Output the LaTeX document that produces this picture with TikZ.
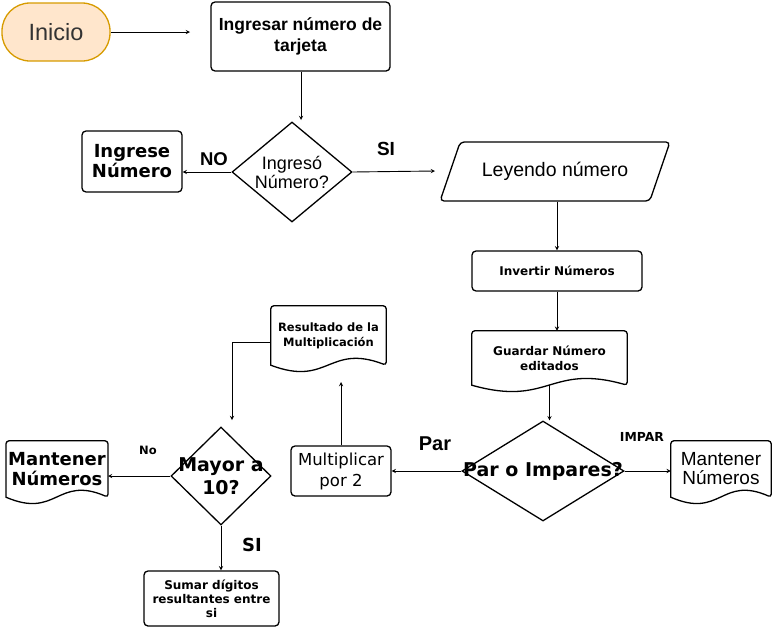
\documentclass[tikz,border=0pt]{standalone}
\usepackage{fontspec}
\setmainfont{Liberation Sans}
\newfontfamily\dejavu{DejaVu Sans}
\usetikzlibrary{shapes.geometric,calc}
\definecolor{iniciofill}{HTML}{FFE6CC}
\definecolor{inicioborder}{HTML}{D79B00}

\tikzset{
  shapeline/.style={line width=1.3pt},
  proc/.style={draw, shapeline, rounded corners=4pt, align=center, inner sep=2pt},
  decision/.style={diamond, draw, shapeline, inner sep=0pt},
  docnode/.style={align=center, inner sep=2pt},
  flow/.style={->, line width=0.9pt},
}
% document outline with a wavy bottom
\newcommand{\docoutline}[1]{%
  \draw[shapeline, rounded corners=3pt] (#1.south west) -- (#1.north west) -- (#1.north east) -- (#1.south east)
    [sharp corners] .. controls ($(#1.south)+(0,-22)$) and ($(#1.south)+(0,22)$) .. (#1.south west) -- cycle;}

\begin{document}
\begin{tikzpicture}[x=1pt, y=-1pt, >=stealth]
\useasboundingbox (0,0) rectangle (772,627);

% Start and card number
\node[draw=inicioborder, fill=iniciofill, shapeline, rounded corners=28pt, minimum width=108, minimum height=58, text=black!80, font=\fontsize{23.5}{27}\selectfont] (inicio) at (56,32) {Inicio};
\node[proc, minimum width=179, minimum height=69, font=\bfseries\fontsize{17.5}{21}\selectfont] (tarjeta) at (300.5,36.5) {Ingresar número de\\tarjeta};
\coordinate (inicioend) at (190,32);
\coordinate (ingtop) at (301,120);
\draw[flow] (inicio.east) -- (inicioend);
\draw[flow] (tarjeta.south -| ingtop) -- (ingtop);

% First decision
\node[decision, minimum width=120, minimum height=100, label={[align=center, font=\fontsize{18}{19}\selectfont]center:Ingresó\\Número?}] (ingreso) at (292,172) {};
\node[proc, minimum width=100, minimum height=61, font=\dejavu\bfseries\fontsize{18}{20}\selectfont] (ingrese) at (132,161.5) {Ingrese\\Número};
\node[font=\bfseries\fontsize{18.5}{20}\selectfont] (lblno) at (214,159) {NO};
\node[font=\bfseries\fontsize{19}{20}\selectfont] (lblsi) at (386,149) {SI};
\coordinate (siend) at (435,171);
\draw[flow] (ingreso.west) -- (ingreso.west -| ingrese.east);
\draw[flow] (ingreso.east) -- (siend);

% Reading and inverting
\node[trapezium, trapezium left angle=57, trapezium right angle=123, trapezium stretches=true, draw, shapeline, rounded corners=4pt, minimum width=230, minimum height=59, font=\fontsize{19.5}{22}\selectfont] (leer) at (555,171.5) {Leyendo número};
\node[proc, minimum width=170, minimum height=40, font=\dejavu\bfseries\fontsize{12}{15}\selectfont] (invertir) at (557,271) {Invertir Números};
\node[docnode, minimum width=155, minimum height=54, font=\dejavu\bfseries\fontsize{12}{15}\selectfont] (guardar) at (549.5,358) {Guardar Número\\editados};
\docoutline{guardar}
\draw[flow] (invertir.north |- leer.south) -- (invertir.north);
\draw[flow] (invertir.south) -- (invertir.south |- guardar.north);

% Even or odd
\node[decision, minimum width=162, minimum height=100, label={[font=\dejavu\bfseries\fontsize{19}{21}\selectfont]center:Par o Impares?}] (pares) at (543,471) {};
\node[docnode, minimum width=100, minimum height=56, font=\fontsize{19}{19}\selectfont] (mantd) at (721,469) {Mantener\\Números};
\docoutline{mantd}
\node[proc, minimum width=100, minimum height=50, font=\dejavu\fontsize{16.5}{21}\selectfont] (multi) at (341,471) {Multiplicar\\por 2};
\node[font=\bfseries\fontsize{20}{22}\selectfont] (lblpar) at (435,444) {Par};
\node[font=\dejavu\bfseries\fontsize{12.4}{14}\selectfont] (lblimpar) at (642,437) {IMPAR};
\draw[flow] (guardar.south) -- (pares.north -| guardar.south);
\draw[flow] (pares.west) -- (multi.east);
\draw[flow] (pares.east) -- (pares.east -| mantd.west);

% Multiplication result
\node[docnode, minimum width=115, minimum height=59, font=\dejavu\bfseries\fontsize{11.5}{15}\selectfont] (resultado) at (328.5,335.5) {Resultado de la\\Multiplicación};
\docoutline{resultado}
\coordinate (multiend) at (341,382);
\coordinate (rm) at (232,342);
\coordinate (rmend) at (232,420);
\draw[flow] (multi.north) -- (multiend);
\draw[flow] (rm -| resultado.west) -- (rm) -- (rmend);

% Greater than 10
\node[decision, minimum width=100, minimum height=98, label={[align=center, font=\dejavu\bfseries\fontsize{19}{23}\selectfont]center:Mayor a\\10?}] (mayor) at (221,476) {};
\node[docnode, minimum width=100, minimum height=56, font=\dejavu\bfseries\fontsize{18}{20}\selectfont] (manti) at (57,469) {Mantener\\Números};
\docoutline{manti}
\node[proc, minimum width=135, minimum height=55, font=\dejavu\bfseries\fontsize{12}{14}\selectfont] (sumar) at (211.5,598.5) {Sumar dígitos\\resultantes entre\\si};
\node[font=\dejavu\bfseries\fontsize{11.5}{13}\selectfont] (lblno2) at (148,450) {No};
\node[font=\dejavu\bfseries\fontsize{18}{19}\selectfont] (lblsi2) at (252,545) {SI};
\draw[flow] (mayor.west) -- (mayor.west -| manti.east);
\draw[flow] (mayor.south) -- (mayor.south |- sumar.north);
\end{tikzpicture}
\end{document}
